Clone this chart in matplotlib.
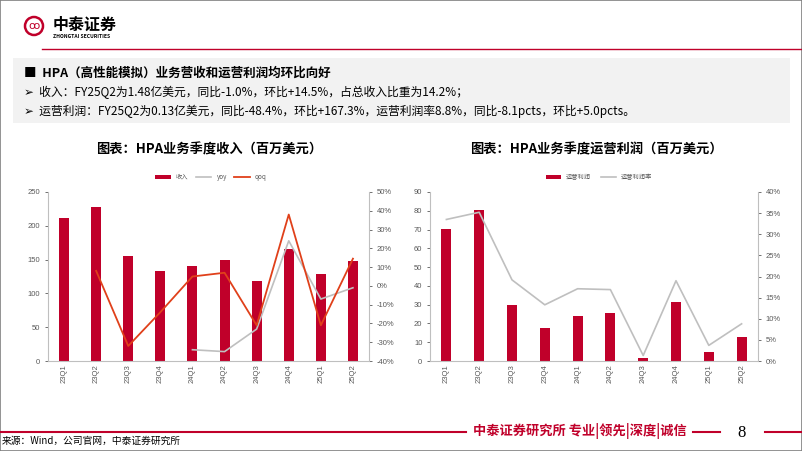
import numpy as np
import matplotlib.pyplot as plt
from matplotlib.patches import Rectangle, Ellipse
from matplotlib.ticker import FuncFormatter

plt.rcParams['font.family'] = ['Noto Sans CJK SC', 'DejaVu Sans']

quarters = ['23Q1', '23Q2', '23Q3', '23Q4', '24Q1', '24Q2', '24Q3', '24Q4', '25Q1', '25Q2']
revenue = [211, 228, 155, 133, 140, 150, 119, 165, 129, 148]
rev_yoy = [np.nan, np.nan, np.nan, np.nan, -34, -35, -23, 24, -7, -1]
rev_qoq = [np.nan, 8, -32, -14, 5, 7, -21, 38, -21, 14.5]
op_profit = [70.5, 80.5, 29.7, 17.7, 24.0, 25.3, 1.5, 31.3, 4.8, 13.0]
op_margin = [33.5, 35.2, 19.2, 13.3, 17.1, 16.9, 1.3, 19.0, 3.7, 8.8]

RED = '#C0002A'
GRAY = '#BFBFBF'
TICK = '#595959'
W, H = 802, 451

fig = plt.figure(figsize=(W / 100, H / 100), dpi=100)


def px(x0, y0, x1, y1):
    return [x0 / W, 1 - y1 / H, (x1 - x0) / W, (y1 - y0) / H]


def ftext(x, y, s, **kw):
    fig.text(x / W, 1 - y / H, s, **kw)


# slide frame and header
fig.add_artist(Rectangle((0, 0), 1, 1, transform=fig.transFigure, fill=False,
                         edgecolor='#808080', linewidth=1.2))
fig.add_artist(plt.Line2D([42 / W, 1], [1 - 49 / H] * 2, color=RED, lw=1))
fig.add_artist(Ellipse((34 / W, 1 - 26 / H), 18 / W, 18 / H, transform=fig.transFigure,
                       fill=False, edgecolor=RED, lw=1.8))
ftext(34, 26, 'ꝏ', color=RED, fontsize=8, ha='center', va='center', family=['DejaVu Sans'])
ftext(53, 25, '中泰证券', color='black', fontsize=11.5, fontweight='bold', va='center')
ftext(53, 36, 'ZHONGTAI SECURITIES', color='black', fontsize=3.6, fontweight='bold', va='center')

# text box
fig.add_artist(Rectangle((13 / W, 1 - 123 / H), 777 / W, 65 / H, transform=fig.transFigure,
                         facecolor='#F2F2F2', edgecolor='none'))
ftext(24, 73, '■  HPA（高性能模拟）业务营收和运营利润均环比向好', fontsize=9, fontweight='bold', va='center')
ftext(24, 92, '➢  收入：FY25Q2为1.48亿美元，同比-1.0%，环比+14.5%，占总收入比重为14.2%；',
      fontsize=8.5, va='center', family=['Noto Sans CJK SC', 'DejaVu Sans'])
ftext(24, 111, '➢  运营利润：FY25Q2为0.13亿美元，同比-48.4%，环比+167.3%，运营利润率8.8%，同比-8.1pcts，环比+5.0pcts。',
      fontsize=8.5, va='center', family=['Noto Sans CJK SC', 'DejaVu Sans'])

# chart titles
ftext(209, 149, '图表：HPA业务季度收入（百万美元）', fontsize=9.5, fontweight='bold', ha='center', va='center')
ftext(596, 149, '图表：HPA业务季度运营利润（百万美元）', fontsize=9.5, fontweight='bold', ha='center', va='center')

x = np.arange(len(quarters))


def style_axes(ax, ax2):
    for a in (ax, ax2):
        a.spines['top'].set_visible(False)
        a.tick_params(labelsize=5.5, colors=TICK, length=2, width=0.6)
    ax.spines['right'].set_visible(False)
    ax2.spines['left'].set_visible(False)
    ax2.spines['bottom'].set_visible(False)
    for s in ('left', 'bottom'):
        ax.spines[s].set_color(GRAY)
    ax2.spines['right'].set_color(GRAY)
    ax.set_xticks(x)
    ax.set_xticklabels(quarters, rotation=90)
    ax.tick_params(axis='x', length=0, pad=2)
    ax.set_xlim(-0.5, len(quarters) - 0.5)
    for lab in ax.get_xticklabels() + ax.get_yticklabels() + ax2.get_yticklabels():
        lab.set_family(['Liberation Sans'])


pct = FuncFormatter(lambda v, p: f'{v:.0f}%')

# left chart: revenue
ax1 = fig.add_axes(px(48, 192, 369, 361))
ax1b = ax1.twinx()
b1 = ax1.bar(x, revenue, width=0.31, color=RED, label='收入')
l1, = ax1b.plot(x, rev_yoy, color=GRAY, lw=1.2, label='yoy')
l2, = ax1b.plot(x, rev_qoq, color='#E0401A', lw=1.3, label='qoq')
ax1.set_ylim(0, 250)
ax1.set_yticks(range(0, 251, 50))
ax1b.set_ylim(-40, 50)
ax1b.set_yticks(range(-40, 51, 10))
ax1b.yaxis.set_major_formatter(pct)
style_axes(ax1, ax1b)
fig.legend([b1, l1, l2], ['收入', 'yoy', 'qoq'], loc='center', bbox_to_anchor=(211 / W, 1 - 177 / H),
           ncol=3, frameon=False, fontsize=4.5, handlelength=2.5, handleheight=0.5,
           columnspacing=1.2, labelcolor=TICK)

# right chart: operating profit
ax2 = fig.add_axes(px(430, 192, 758, 361))
ax2b = ax2.twinx()
b2 = ax2.bar(x, op_profit, width=0.3, color=RED, label='运营利润')
l3, = ax2b.plot(x, op_margin, color=GRAY, lw=1.2, label='运营利润率')
ax2.set_ylim(0, 90)
ax2.set_yticks(range(0, 91, 10))
ax2b.set_ylim(0, 40)
ax2b.set_yticks(range(0, 41, 5))
ax2b.yaxis.set_major_formatter(pct)
style_axes(ax2, ax2b)
fig.legend([b2, l3], ['运营利润', '运营利润率'], loc='center', bbox_to_anchor=(599 / W, 1 - 177 / H),
           ncol=2, frameon=False, fontsize=4.5, handlelength=2.5, handleheight=0.5,
           columnspacing=1.5, labelcolor=TICK)

# footer
fig.add_artist(plt.Line2D([0, 466 / W], [1 - 432 / H] * 2, color=RED, lw=1.5))
ftext(580, 431, '中泰证券研究所 专业|领先|深度|诚信', color=RED, fontsize=9.5, fontweight='bold',
      ha='center', va='center')
fig.add_artist(plt.Line2D([693 / W, 720 / W], [1 - 432 / H] * 2, color=RED, lw=1.5))
ftext(742, 433, '8', fontsize=12, ha='center', va='center', family=['Liberation Serif'])
fig.add_artist(plt.Line2D([765 / W, 1], [1 - 432 / H] * 2, color=RED, lw=1.5))
ftext(2, 441, '来源：Wind，公司官网，中泰证券研究所', fontsize=7, va='center')

fig.savefig('out.png', dpi=100)
